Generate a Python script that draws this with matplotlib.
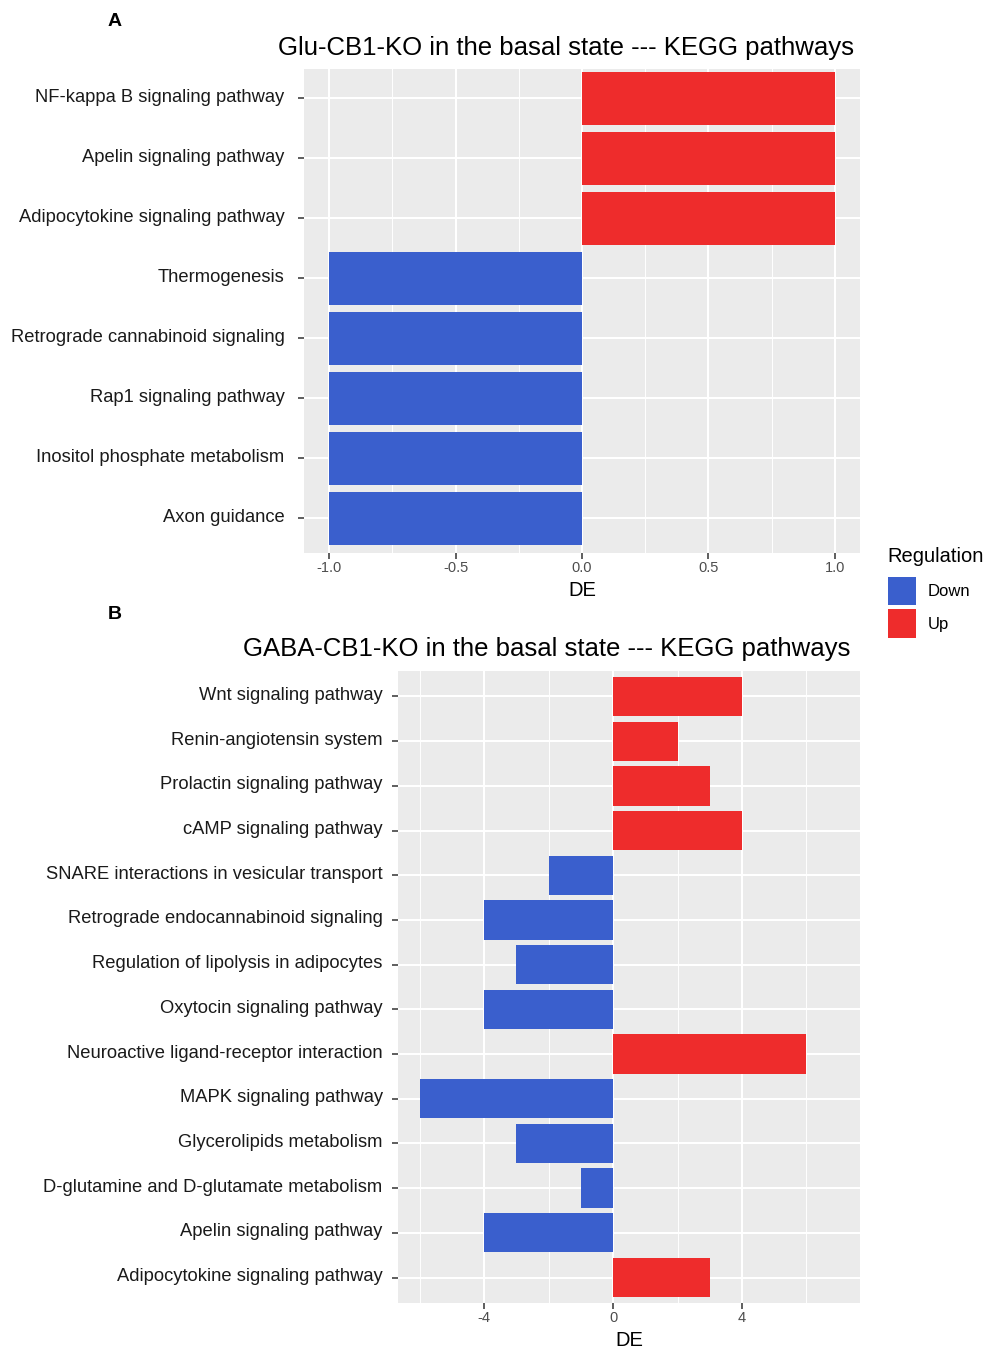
import matplotlib
matplotlib.use("Agg")
import matplotlib.pyplot as plt
import matplotlib.transforms as mtransforms
from matplotlib.patches import Patch

plt.rcParams['font.family'] = ['Liberation Sans', 'DejaVu Sans']

# Panel A: Glu-CB1-KO
glu_pathways = [
    "NF-kappa B signaling pathway",
    "Apelin signaling pathway",
    "Adipocytokine signaling pathway",
    "Thermogenesis",
    "Retrograde cannabinoid signaling",
    "Rap1 signaling pathway",
    "Inositol phosphate metabolism",
    "Axon guidance",
]
glu_de = [1, 1, 1, -1, -1, -1, -1, -1]

# Panel B: GABA-CB1-KO
gaba_pathways = [
    "Wnt signaling pathway",
    "Renin-angiotensin system",
    "Prolactin signaling pathway",
    "cAMP signaling pathway",
    "SNARE interactions in vesicular transport",
    "Retrograde endocannabinoid signaling",
    "Regulation of lipolysis in adipocytes",
    "Oxytocin signaling pathway",
    "Neuroactive ligand-receptor interaction",
    "MAPK signaling pathway",
    "Glycerolipids metabolism",
    "D-glutamine and D-glutamate metabolism",
    "Apelin signaling pathway",
    "Adipocytokine signaling pathway",
]
gaba_de = [4, 2, 3, 4, -2, -4, -3, -4, 6, -6, -3, -1, -4, 3]

UP = "#EE2C2C"
DOWN = "#3A5FCD"
PANEL_BG = "#EBEBEB"

W, H = 983, 1349
fig = plt.figure(figsize=(W / 100, H / 100), dpi=100)


def px_axes(left, top, right, bottom):
    return fig.add_axes([left / W, 1 - bottom / H, (right - left) / W, (bottom - top) / H])


def draw_panel(ax, labels, values, xlim, ylim, major, minor, ticklabels, ypad):
    n = len(labels)
    ypos = list(range(n, 0, -1))
    colors = [UP if v > 0 else DOWN for v in values]
    ax.set_facecolor(PANEL_BG)
    ax.barh(ypos, values, height=0.88, color=colors, zorder=3)
    ax.set_xlim(*xlim)
    ax.set_ylim(*ylim)
    ax.set_xticks(major)
    ax.set_xticklabels(ticklabels)
    ax.set_xticks(minor, minor=True)
    ax.set_yticks(ypos)
    ax.set_yticklabels(labels, fontsize=13.2, color="#1a1a1a")
    ax.grid(True, which="major", color="white", linewidth=1.5, zorder=0)
    ax.grid(True, which="minor", axis="x", color="white", linewidth=0.7, zorder=0)
    ax.set_axisbelow(True)
    for s in ax.spines.values():
        s.set_visible(False)
    ax.tick_params(axis="y", which="major", length=4, width=1.1, color="#333333", pad=ypad)
    ax.tick_params(axis="x", which="major", length=4, width=1.1, color="#333333",
                   labelsize=10.5, labelcolor="#4d4d4d", pad=2)
    ax.tick_params(axis="x", which="minor", length=0)
    ax.set_xlabel("DE", fontsize=14.5, color="black", labelpad=4)
    # nudge category labels slightly upward
    lift = mtransforms.ScaledTranslation(0, 3 / 100, fig.dpi_scale_trans)
    for lbl in ax.get_yticklabels():
        lbl.set_transform(lbl.get_transform() + lift)


# Panel A
axA = px_axes(304, 69, 860, 553)
draw_panel(axA, glu_pathways, glu_de, (-1.1, 1.1), (0.425, 8.49),
           [-1.0, -0.5, 0.0, 0.5, 1.0], [-0.75, -0.25, 0.25, 0.75],
           ["-1.0", "-0.5", "0.0", "0.5", "1.0"], ypad=10)

# Panel B
axB = px_axes(398, 671, 860, 1303)
draw_panel(axB, gaba_pathways, gaba_de, (-6.67, 7.66), (0.43, 14.57),
           [-4, 0, 4], [-6, -2, 2, 6], ["-4", "0", "4"], ypad=7)

# Titles and panel letters
fig.text(566 / W, 1 - 48 / H, "Glu-CB1-KO in the basal state --- KEGG pathways",
         ha="center", va="center", fontsize=18.5)
fig.text(546.5 / W, 1 - 649 / H, "GABA-CB1-KO in the basal state --- KEGG pathways",
         ha="center", va="center", fontsize=18.5)
fig.text(115 / W, 1 - 21 / H, "A", ha="center", va="center", fontsize=14, fontweight="bold")
fig.text(115 / W, 1 - 615 / H, "B", ha="center", va="center", fontsize=14, fontweight="bold")

# Legend: title as its own text, keys below it
fig.text(887 / W, 1 - 556 / H, "Regulation", ha="left", va="center", fontsize=14.5)
handles = [Patch(facecolor=DOWN, edgecolor="none", label="Down"),
           Patch(facecolor=UP, edgecolor="none", label="Up")]
leg = fig.legend(handles=handles, loc="upper left",
                 bbox_to_anchor=(888 / W, 1 - 577 / H), frameon=False,
                 fontsize=12, handlelength=1.68, handleheight=2.25,
                 handletextpad=0.7, labelspacing=0.24, borderaxespad=0, borderpad=0)

fig.savefig("out.png", dpi=100)
